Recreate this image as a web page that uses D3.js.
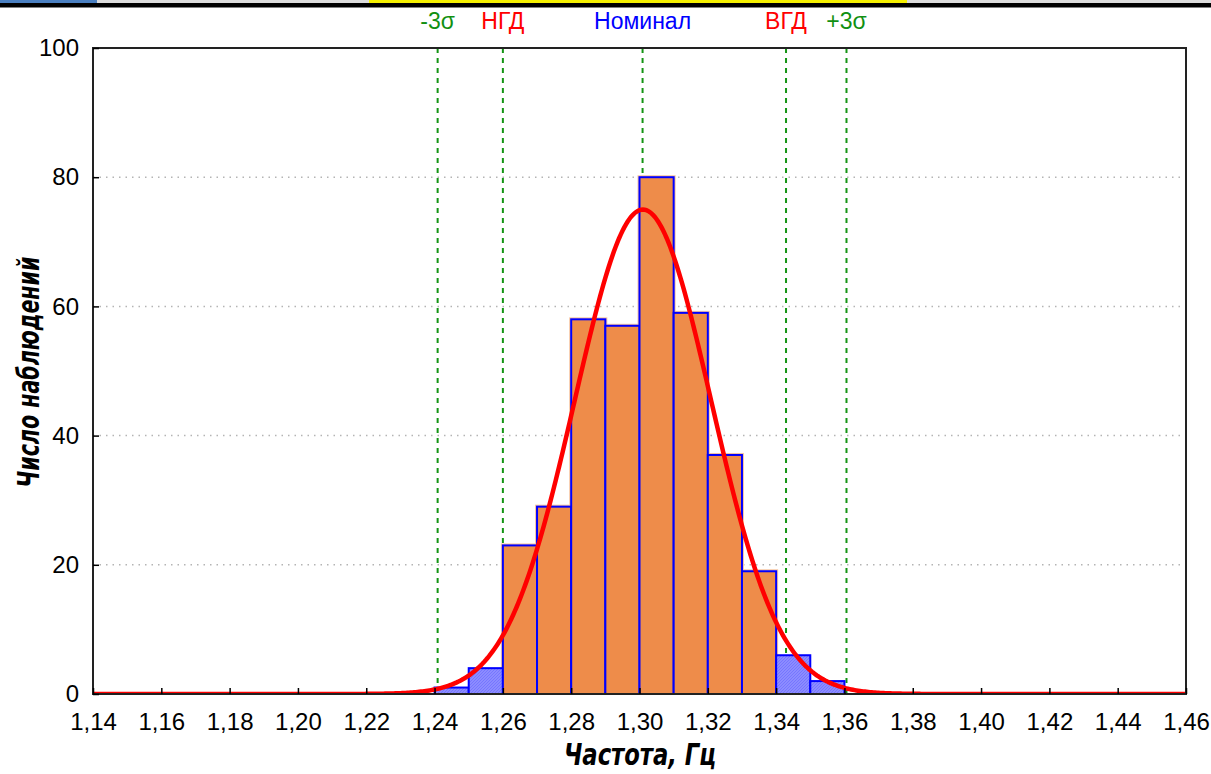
<!DOCTYPE html>
<html><head><meta charset="utf-8">
<script src="https://cdn.jsdelivr.net/npm/d3@7"></script>
<style>body{margin:0;background:#fff;} svg{display:block;}</style>
</head><body>
<svg id="chart" width="1211" height="774"></svg>
<script>
// ---- data ----
const binStarts = [1.24,1.25,1.26,1.27,1.28,1.29,1.30,1.31,1.32,1.33,1.34,1.35];
const binCounts = [1,4,23,29,58,57,80,59,37,19,6,2];
const binWidth = 0.01;
const xTicks = [1.14,1.16,1.18,1.20,1.22,1.24,1.26,1.28,1.30,1.32,1.34,1.36,1.38,1.40,1.42,1.44,1.46];
const yTicks = [0,20,40,60,80,100];
const refLabels = ["-3σ","НГД","Номинал","ВГД","+3σ"];
const refValues = [1.2409,1.26,1.3009,1.3429,1.3606];
const refKinds = ["sigma","limit","nominal","limit","sigma"];
const lowerLimit = 1.26, upperLimit = 1.34;
const fitMean = 1.301, fitSigma = 0.01995;
const xTitle = "Частота, Гц", yTitle = "Число наблюдений";

const svg = d3.select("#chart");
const L = 93, R = 1186, T = 48, B = 694;
const x = d3.scaleLinear().domain([1.14,1.46]).range([L,R]);
const y = d3.scaleLinear().domain([0,100]).range([B,T]);
const FONT = "'Liberation Sans', Arial, sans-serif";

// top decoration strip
svg.append("rect").attr("x",0).attr("y",0).attr("width",1211).attr("height",3).attr("fill","#dcdcdc");
svg.append("rect").attr("x",0).attr("y",0).attr("width",97).attr("height",3).attr("fill","#4a7fc0");
svg.append("rect").attr("x",369).attr("y",0).attr("width",538).attr("height",3).attr("fill","#f5f000");
svg.append("rect").attr("x",0).attr("y",3).attr("width",1211).attr("height",4.5).attr("fill","#000");

// pattern for out-of-tolerance bars
const defs = svg.append("defs");
const pat = defs.append("pattern").attr("id","hatch").attr("patternUnits","userSpaceOnUse").attr("width",3).attr("height",3);
pat.append("rect").attr("width",3).attr("height",3).attr("fill","#8c8cff");
pat.append("path").attr("d","M0,3 L3,0").attr("stroke","#7070ff").attr("stroke-width",0.8);
defs.append("clipPath").attr("id","clip").append("rect").attr("x",L).attr("y",T).attr("width",R-L).attr("height",B-T);

// gridlines
svg.append("g").selectAll("line").data(yTicks.filter(d=>d>0 && d<100)).join("line")
  .attr("x1",L).attr("x2",R).attr("y1",d=>y(d)).attr("y2",d=>y(d))
  .attr("stroke","#b4b4b4").attr("stroke-width",1.5).attr("stroke-dasharray","1.5,5");

// reference lines
const refColor = {sigma:"#119011", limit:"#ff0000", nominal:"#0000ff"};
svg.append("g").selectAll("line").data(refValues).join("line")
  .attr("x1",d=>x(d)).attr("x2",d=>x(d)).attr("y1",T).attr("y2",B)
  .attr("stroke","#149414").attr("stroke-width",2).attr("stroke-dasharray","5,5");

// bars
const bars = binStarts.map((s,i)=>({s, c:binCounts[i], inside: s>=lowerLimit-1e-9 && s+binWidth<=upperLimit+1e-9}));
const bg = svg.append("g");
bg.selectAll("rect.halo").data(bars.filter(d=>d.inside)).join("rect")
  .attr("x",d=>x(d.s)-1).attr("y",d=>y(d.c)-1)
  .attr("width",d=>x(d.s+binWidth)-x(d.s)+2).attr("height",d=>y(0)-y(d.c)+1)
  .attr("fill","none").attr("stroke","#f7c7a3").attr("stroke-width",2);
bg.selectAll("rect.bar").data(bars).join("rect")
  .attr("x",d=>x(d.s)).attr("y",d=>y(d.c))
  .attr("width",d=>x(d.s+binWidth)-x(d.s)).attr("height",d=>y(0)-y(d.c))
  .attr("fill",d=>d.inside?"#ee8c4a":"url(#hatch)")
  .attr("stroke","#0000ff").attr("stroke-width",2);

// fitted normal curve
const total = d3.sum(binCounts);
const nd = v => total*binWidth/(fitSigma*Math.sqrt(2*Math.PI))*Math.exp(-0.5*((v-fitMean)/fitSigma)**2);
const xs = d3.range(0,641).map(i=>1.14+i*0.0005);
svg.append("path").attr("clip-path","url(#clip)")
  .datum(xs).attr("fill","none").attr("stroke","#ff0000").attr("stroke-width",4.5)
  .attr("d",d3.line().x(d=>x(d)).y(d=>y(nd(d))));

// frame
svg.append("rect").attr("x",L).attr("y",T).attr("width",R-L).attr("height",B-T)
  .attr("fill","none").attr("stroke","#222").attr("stroke-width",2);

// axes
const xAxis = d3.axisBottom(x).tickValues(xTicks).tickSize(-6).tickPadding(19)
  .tickFormat(d=>d3.format(".2f")(d).replace(".",","));
const gx = svg.append("g").attr("transform",`translate(0,${B})`).call(xAxis);
gx.attr("font-size",null).attr("font-family",null);
gx.select(".domain").remove();
gx.selectAll(".tick line").attr("stroke","#000").attr("stroke-width",1.5);
gx.selectAll("text").style("font-family",FONT).style("font-size","24px").attr("fill","#000");

const yAxis = d3.axisLeft(y).tickValues(yTicks).tickSize(-6).tickPadding(14);
const gy = svg.append("g").attr("transform",`translate(${L},0)`).call(yAxis);
gy.attr("font-size",null).attr("font-family",null);
gy.select(".domain").remove();
gy.selectAll(".tick line").attr("stroke","#000").attr("stroke-width",1.5);
gy.selectAll("text").style("font-family",FONT).style("font-size","24px").attr("fill","#000");

// reference labels on top
svg.append("g").selectAll("text").data(refLabels).join("text")
  .attr("x",(d,i)=>x(refValues[i])).attr("y",29).attr("text-anchor","middle")
  .style("font-family",FONT).style("font-size","23px")
  .attr("fill",(d,i)=>refColor[refKinds[i]]).text(d=>d);

// axis titles
svg.append("text").attr("text-anchor","middle")
  .style("font-family","'DejaVu Sans Condensed','Liberation Sans Narrow',sans-serif")
  .attr("font-weight","bold").attr("font-style","italic").style("font-size","26px")
  .attr("transform","translate(640,765) scale(0.97,1.15)")
  .text(xTitle);
svg.append("text").attr("text-anchor","middle")
  .style("font-family","'DejaVu Sans Condensed','Liberation Sans Narrow',sans-serif")
  .attr("font-weight","bold").attr("font-style","italic").style("font-size","26px")
  .attr("transform","translate(39,372) rotate(-90) scale(0.88,1.15)")
  .text(yTitle);
</script>
</body></html>
